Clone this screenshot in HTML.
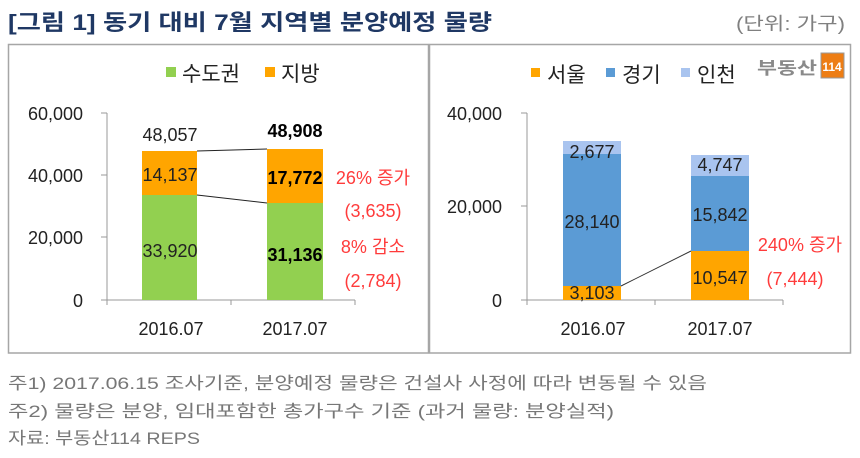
<!DOCTYPE html>
<html><head><meta charset="utf-8"><style>
html,body{margin:0;padding:0;background:#fff;width:860px;height:458px;overflow:hidden}
svg text{font-family:"Liberation Sans","Noto Sans CJK KR",sans-serif}
</style></head><body>
<svg width="860" height="458" viewBox="0 0 860 458" xmlns="http://www.w3.org/2000/svg">
<text x="8" y="30" font-size="22" font-weight="bold" fill="#1f3864" textLength="484" lengthAdjust="spacingAndGlyphs">[그림 1] 동기 대비 7월 지역별 분양예정 물량</text>
<text x="736" y="30" font-size="18" fill="#808080" textLength="109" lengthAdjust="spacingAndGlyphs">(단위: 가구)</text>
<rect x="8.5" y="44.5" width="420" height="308.5" fill="#fff" stroke="#a6a6a6" stroke-width="1.5"/>
<rect x="429.5" y="44.5" width="421" height="308.5" fill="#fff" stroke="#a6a6a6" stroke-width="1.5"/>

<rect x="166" y="67" width="10" height="10" fill="#92d050"/>
<text x="182" y="81" font-size="21" fill="#222">수도권</text>
<rect x="265" y="67" width="10" height="10" fill="#ffa500"/>
<text x="281" y="81" font-size="21" fill="#222">지방</text>

<g font-size="18" fill="#222" text-anchor="end">
<text x="83" y="120">60,000</text><text x="83" y="182">40,000</text><text x="83" y="244">20,000</text><text x="83" y="307">0</text>
</g>
<g stroke="#999" stroke-width="1">
<line x1="107" y1="113" x2="107" y2="300"/>
<line x1="101" y1="113" x2="107" y2="113"/><line x1="101" y1="175" x2="107" y2="175"/><line x1="101" y1="237" x2="107" y2="237"/>
<line x1="101" y1="300" x2="355" y2="300"/>
<line x1="231" y1="300" x2="231" y2="305"/><line x1="355" y1="300" x2="355" y2="305"/><line x1="107" y1="300" x2="107" y2="305"/>
</g>
<rect x="142" y="195" width="55" height="105" fill="#92d050"/>
<rect x="142" y="151" width="55" height="44" fill="#ffa500"/>
<rect x="267" y="203" width="56" height="97" fill="#92d050"/>
<rect x="267" y="149" width="56" height="54" fill="#ffa500"/>
<line x1="197" y1="151" x2="267" y2="149" stroke="#222" stroke-width="1"/>
<line x1="197" y1="195" x2="267" y2="203" stroke="#222" stroke-width="1"/>
<g font-size="18" fill="#222" text-anchor="middle">
<text x="170" y="141">48,057</text>
<text x="170" y="181">14,137</text>
<text x="170" y="257">33,920</text>
<text x="171" y="335">2016.07</text><text x="295" y="335">2017.07</text>
</g>
<g font-size="18" font-weight="bold" fill="#000" text-anchor="middle">
<text x="295" y="137">48,908</text>
<text x="295" y="184">17,772</text>
<text x="295" y="261">31,136</text>
</g>
<g font-size="18" fill="#ff3b3b" text-anchor="middle">
<text x="373" y="184">26% 증가</text>
<text x="373" y="217">(3,635)</text>
<text x="373" y="253">8% 감소</text>
<text x="373" y="287">(2,784)</text>
</g>

<rect x="531" y="68" width="9" height="9" fill="#ffa500"/>
<text x="547" y="82" font-size="21" fill="#222">서울</text>
<rect x="606" y="68" width="9" height="9" fill="#5b9bd5"/>
<text x="622" y="82" font-size="21" fill="#222">경기</text>
<rect x="681" y="68" width="9" height="9" fill="#a9c4ef"/>
<text x="697" y="82" font-size="21" fill="#222">인천</text>
<text x="757" y="74" font-size="17" font-weight="bold" fill="#8a8a8a" textLength="60" lengthAdjust="spacingAndGlyphs">부동산</text>
<rect x="821" y="53" width="23" height="25" fill="#ed7d14" stroke="#999"/>
<text x="832" y="71" font-size="12" font-weight="bold" fill="#fff" text-anchor="middle">114</text>

<g font-size="18" fill="#222" text-anchor="end">
<text x="502" y="120">40,000</text><text x="502" y="213">20,000</text><text x="502" y="307">0</text>
</g>
<g stroke="#999" stroke-width="1">
<line x1="527" y1="113" x2="527" y2="300"/>
<line x1="521" y1="113" x2="527" y2="113"/><line x1="521" y1="206" x2="527" y2="206"/>
<line x1="521" y1="300" x2="783" y2="300"/>
<line x1="527" y1="300" x2="527" y2="305"/><line x1="655" y1="300" x2="655" y2="305"/><line x1="783" y1="300" x2="783" y2="305"/>
</g>
<rect x="563" y="286" width="58" height="14" fill="#ffa500"/>
<rect x="563" y="154" width="58" height="132" fill="#5b9bd5"/>
<rect x="563" y="141" width="58" height="13" fill="#a9c4ef"/>
<rect x="691" y="251" width="58" height="49" fill="#ffa500"/>
<rect x="691" y="176" width="58" height="75" fill="#5b9bd5"/>
<rect x="691" y="155" width="58" height="21" fill="#a9c4ef"/>
<line x1="621" y1="286" x2="691" y2="251" stroke="#333" stroke-width="1"/>
<g font-size="18" fill="#222" text-anchor="middle">
<text x="592" y="158">2,677</text>
<text x="592" y="228">28,140</text>
<text x="592" y="299">3,103</text>
<text x="720" y="171">4,747</text>
<text x="720" y="221">15,842</text>
<text x="720" y="284">10,547</text>
<text x="593" y="335">2016.07</text><text x="720" y="335">2017.07</text>
</g>
<g font-size="18" fill="#ff3b3b" text-anchor="middle">
<text x="800" y="251">240% 증가</text>
<text x="795" y="285">(7,444)</text>
</g>

<g font-size="17" fill="#777">
<text x="8" y="389" textLength="699" lengthAdjust="spacingAndGlyphs">주1) 2017.06.15 조사기준, 분양예정 물량은 건설사 사정에 따라 변동될 수 있음</text>
<text x="8" y="417" textLength="606" lengthAdjust="spacingAndGlyphs">주2) 물량은 분양, 임대포함한 총가구수 기준 (과거 물량: 분양실적)</text>
<text x="8" y="444" textLength="192" lengthAdjust="spacingAndGlyphs">자료: 부동산114 REPS</text>
</g>
</svg>
</body></html>
